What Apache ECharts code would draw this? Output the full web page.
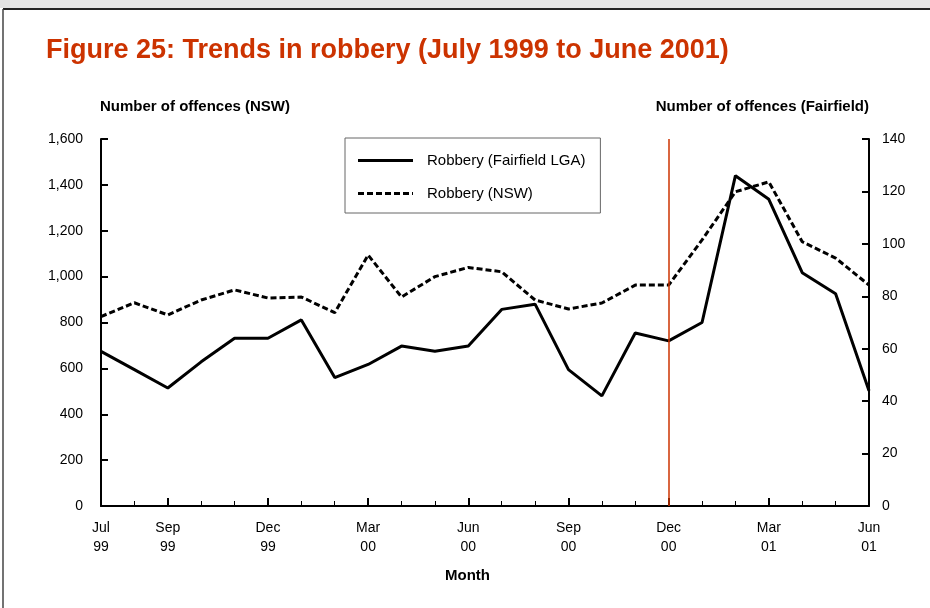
<!DOCTYPE html>
<html>
<head>
<meta charset="utf-8">
<script src="https://cdn.jsdelivr.net/npm/echarts@6/dist/echarts.min.js"></script>
<style>
html,body{margin:0;padding:0;background:#fff;}
#chart{width:930px;height:608px;}
</style>
</head>
<body>
<div id="chart"></div>
<script>
// ---- data ----
var months = ['Jul\n99','Aug\n99','Sep\n99','Oct\n99','Nov\n99','Dec\n99','Jan\n00','Feb\n00','Mar\n00','Apr\n00','May\n00','Jun\n00',
              'Jul\n00','Aug\n00','Sep\n00','Oct\n00','Nov\n00','Dec\n00','Jan\n01','Feb\n01','Mar\n01','Apr\n01','May\n01','Jun\n01'];
var labelledMonths = [0, 2, 5, 8, 11, 14, 17, 20, 23];
var fairfield = [59, 52, 45, 55, 64, 64, 71, 49, 54, 61, 59, 61, 75, 77, 52, 42, 66, 63, 70, 126, 117, 89, 81, 44];
var nsw = [826, 886, 833, 898, 942, 907, 911, 843, 1094, 911, 1000, 1040, 1021, 898, 859, 885, 963, 963, 1160, 1370, 1413, 1152, 1081, 963];
var markerMonth = 'Dec\n00';
var leftTicks = {min: 0, max: 1600, interval: 200};
var rightTicks = {min: 0, max: 140, interval: 20};

var FONT = '"Liberation Sans", Arial, sans-serif';
var RED = '#CC3300';

function thousands(v){ return String(v).replace(/\B(?=(\d{3})+(?!\d))/g, ','); }

var solidIcon = 'path://M0,0H55V3H0Z';
var dashedIcon = 'path://M0,0h6v3h-6zM9,0h6v3h-6zM18,0h6v3h-6zM27,0h6v3h-6zM36,0h6v3h-6zM45,0h6v3h-6zM54,0h1v3h-1z';

function valueAxis(range, pos, opts) {
  return Object.assign({
    type: 'value',
    min: range.min, max: range.max, interval: range.interval,
    position: pos,
    splitLine: {show: false}
  }, opts);
}

var chart = echarts.init(document.getElementById('chart'), null, {renderer: 'canvas'});
chart.setOption({
  animation: false,
  backgroundColor: '#fff',
  textStyle: {fontFamily: FONT},
  title: {
    text: 'Figure 25: Trends in robbery (July 1999 to June 2001)',
    left: 46, top: 37, padding: 0,
    textStyle: {color: RED, fontSize: 27, fontWeight: 'bold', fontFamily: FONT}
  },
  legend: {
    orient: 'vertical',
    left: 345, top: 138,
    padding: [14, 15, 11, 13],
    itemGap: 16,
    itemWidth: 55, itemHeight: 3,
    borderColor: '#666', borderWidth: 1,
    backgroundColor: '#fff',
    textStyle: {fontSize: 15, lineHeight: 17, color: '#000', fontFamily: FONT, padding: [0, 0, 0, 9]},
    data: [
      {name: 'Robbery (Fairfield LGA)', icon: solidIcon, itemStyle: {color: '#000'}},
      {name: 'Robbery (NSW)', icon: dashedIcon, itemStyle: {color: '#000'}}
    ]
  },
  grid: {left: 101, right: 61, top: 139, bottom: 102, containLabel: false},
  xAxis: [{
    type: 'category',
    data: months,
    boundaryGap: false,
    axisLine: {lineStyle: {color: '#000', width: 2}},
    axisTick: {show: true, inside: true, length: 5, interval: 0, lineStyle: {color: '#000', width: 1}},
    axisLabel: {
      interval: function(i){ return labelledMonths.indexOf(i) >= 0; },
      color: '#000', fontSize: 14, lineHeight: 19, margin: 13, fontFamily: FONT
    },
    splitLine: {show: false}
  }, {
    type: 'category',
    data: months,
    boundaryGap: false,
    position: 'bottom',
    axisLine: {show: false},
    axisTick: {show: true, inside: true, length: 8, interval: function(i){ return labelledMonths.indexOf(i) >= 0; }, lineStyle: {color: '#000', width: 2}},
    axisLabel: {show: false},
    splitLine: {show: false}
  }],
  yAxis: [
    valueAxis(leftTicks, 'left', {
      axisLine: {show: true, lineStyle: {color: '#000', width: 2}},
      axisTick: {show: false},
      axisLabel: {color: '#000', fontSize: 14, margin: 18, fontFamily: FONT, formatter: thousands}
    }),
    valueAxis(rightTicks, 'right', {
      axisLine: {show: true, lineStyle: {color: '#000', width: 2}},
      axisTick: {show: false},
      axisLabel: {color: '#000', fontSize: 14, margin: 13, fontFamily: FONT}
    }),
    // tick-only axes shifted inside the plot so their ticks reach back to the axis lines
    valueAxis(leftTicks, 'left', {
      offset: -7,
      axisLine: {show: false},
      axisTick: {show: true, length: 7, lineStyle: {color: '#000', width: 2}},
      axisLabel: {show: false}
    }),
    valueAxis(rightTicks, 'right', {
      offset: -7,
      axisLine: {show: false},
      axisTick: {show: true, length: 7, lineStyle: {color: '#000', width: 2}},
      axisLabel: {show: false}
    })
  ],
  graphic: [
    {type: 'rect', shape: {x: 0, y: 0, width: 930, height: 8}, style: {fill: '#e4e4e4'}, silent: true},
    {type: 'line', shape: {x1: 3, y1: 9, x2: 930, y2: 9}, style: {stroke: '#222', lineWidth: 2}, silent: true},
    {type: 'line', shape: {x1: 3, y1: 9, x2: 3, y2: 608}, style: {stroke: '#444', lineWidth: 1.5}, silent: true},
    {type: 'text', left: 100, top: 99, style: {text: 'Number of offences (NSW)', fill: '#000', font: 'bold 15px ' + FONT}},
    {type: 'text', right: 61, top: 99, style: {text: 'Number of offences (Fairfield)', fill: '#000', font: 'bold 15px ' + FONT, textAlign: 'right'}},
    {type: 'text', left: 445, top: 568, style: {text: 'Month', fill: '#000', font: 'bold 15px ' + FONT}}
  ],
  series: [{
    name: 'Robbery (Fairfield LGA)',
    type: 'line',
    yAxisIndex: 1,
    data: fairfield,
    symbol: 'none',
    lineStyle: {color: '#000', width: 3},
    itemStyle: {color: '#000'},
    z: 3,
    markLine: {
      silent: true,
      symbol: ['none', 'none'],
      label: {show: false},
      lineStyle: {color: RED, width: 1.5, type: 'solid'},
      data: [{xAxis: markerMonth}]
    }
  }, {
    name: 'Robbery (NSW)',
    type: 'line',
    yAxisIndex: 0,
    data: nsw,
    symbol: 'none',
    lineStyle: {color: '#000', width: 3, type: [6, 3]},
    itemStyle: {color: '#000'},
    z: 2
  }]
});
</script>
</body>
</html>
